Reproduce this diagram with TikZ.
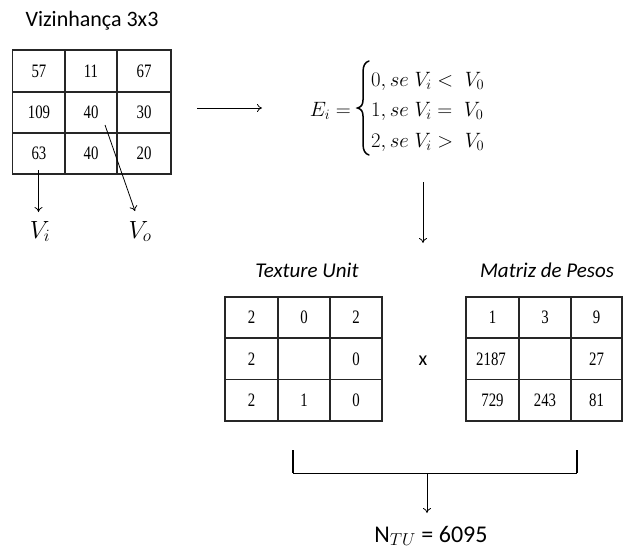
\documentclass[tikz,border=0pt]{standalone}
\usepackage{amsmath}
\usepackage{fontspec}
\setmainfont{Carlito}
\newfontfamily\numfont[FakeStretch=0.78]{Liberation Serif}
\usetikzlibrary{arrows.meta}
\begin{document}
\begin{tikzpicture}[x=1pt,y=-1pt,
  gridline/.style={line width=1.2pt,draw=black!85},
  num/.style={font=\numfont\fontsize{19}{22}\selectfont,inner sep=0pt},
  title/.style={font=\fontsize{22}{26}\selectfont,inner sep=0pt,anchor=base},
  ititle/.style={font=\itshape\fontsize{21}{25}\selectfont,inner sep=0pt,anchor=base},
  conn/.style={line width=0.8pt,-{To[length=5pt,width=8pt]}},
  mathlbl/.style={font=\fontsize{24}{28}\selectfont,inner sep=0pt,anchor=base},
  eqrow/.style={font=\fontsize{22.5}{27}\selectfont,inner sep=0pt,anchor=base west}]
\useasboundingbox (0,0) rectangle (624,554);

% title
\node[title] (t1) at (92,27) {Vizinhança 3x3};

% grid 1
\draw[gridline] (12.5,50) rectangle (171,174);
\draw[gridline] (65,50) -- (65,174) (117,50) -- (117,174)
  (12.5,92) -- (171,92) (12.5,133) -- (171,133);
\node[num] (a11) at (39,71) {57};
\node[num] (a12) at (91,71) {11};
\node[num] (a13) at (144,71) {67};
\node[num] (a21) at (39,112.5) {109};
\node[num] (a22) at (91,112.5) {40};
\node[num] (a23) at (144,112.5) {30};
\node[num] (a31) at (39,153.5) {63};
\node[num] (a32) at (91,153.5) {40};
\node[num] (a33) at (144,153.5) {20};

\node[mathlbl] (vi) at (40,238) {$V_i$};
\node[mathlbl] (vo) at (140,238) {$V_o$};
\coordinate (vis) at (38.5,170);
\coordinate (vie) at (38.5,212);
\coordinate (vos) at (105,125);
\coordinate (voe) at (135,211);
\draw[conn] (vis) -- (vie);
\draw[conn] (vos) -- (voe);

% arrow to equation
\coordinate (h1) at (197,108);
\coordinate (h2) at (262,108);
\draw[conn] (h1) -- (h2);

% equation
\node[font=\fontsize{22.5}{27}\selectfont,inner sep=0pt,anchor=base east] (eq) at (351,116) {$E_i=$};
\draw[line width=1.5pt,line cap=round]
  (369,61) .. controls (365,62) and (363,66) .. (363,72) -- (363,100)
  .. controls (363,105) and (361,107) .. (357.5,108)
  .. controls (361,109) and (363,111) .. (363,116) -- (363,144)
  .. controls (363,150) and (365,154) .. (369,155);
\node[eqrow] (r1) at (371,86) {$0, se\;V_i<\;V_0$};
\node[eqrow] (r2) at (371,116.5) {$1, se\;V_i=\;V_0$};
\node[eqrow] (r3) at (371,147) {$2, se\;V_i>\;V_0$};

\coordinate (d1) at (423,182);
\coordinate (d2) at (423,243);
\draw[conn] (d1) -- (d2);

% texture unit
\node[ititle] (t2) at (307,277) {Texture Unit};
\draw[gridline] (225,297) rectangle (382,421);
\draw[gridline] (278,297) -- (278,421) (330,297) -- (330,421)
  (225,338) -- (382,338) (225,379.5) -- (382,379.5);
\node[num] (b11) at (251.5,317.5) {2};
\node[num] (b12) at (304,317.5) {0};
\node[num] (b13) at (356,317.5) {2};
\node[num] (b21) at (251.5,359) {2};
\node[num] (b23) at (356,359) {0};
\node[num] (b31) at (251.5,400) {2};
\node[num] (b32) at (304,400) {1};
\node[num] (b33) at (356,400) {0};

\node[font=\fontsize{20}{24}\selectfont,inner sep=0pt] (times) at (423,361) {x};

% matriz de pesos
\node[ititle] (t3) at (547,277) {Matriz de Pesos};
\draw[gridline] (466,297) rectangle (622,421);
\draw[gridline] (519,297) -- (519,421) (571,297) -- (571,421)
  (466,338) -- (622,338) (466,379.5) -- (622,379.5);
\node[num] (c11) at (492.5,317.5) {1};
\node[num] (c12) at (545,317.5) {3};
\node[num] (c13) at (596.5,317.5) {9};
\node[num] (c21) at (491,359) {2187};
\node[num] (c23) at (596.5,359) {27};
\node[num] (c31) at (492.5,400) {729};
\node[num] (c32) at (545,400) {243};
\node[num] (c33) at (596.5,400) {81};

% bracket
\coordinate (bl1) at (293,450);
\coordinate (bl2) at (293,473);
\coordinate (br1) at (577,450);
\coordinate (br2) at (577,473);
\draw[line width=0.9pt] (bl2) -- (br2);
\draw[line width=2.2pt] (bl1) -- (bl2) (br1) -- (br2);
\coordinate (bm) at (427,473);
\coordinate (be) at (427,513);
\draw[conn] (bm) -- (be);

\node[inner sep=0pt,anchor=base,font=\fontsize{24}{28}\selectfont] (ntu) at (431,542) {N$_{TU}$ = 6095};
\end{tikzpicture}
\end{document}
